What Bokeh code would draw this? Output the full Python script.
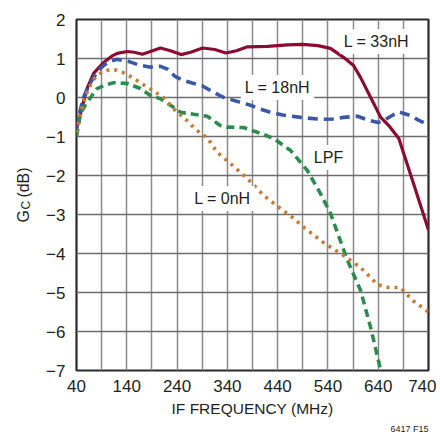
import math
from bokeh.plotting import figure
from bokeh.models import Range1d, FixedTicker, Label
from bokeh.embed import file_html
from bokeh.resources import INLINE

# ---- data ----
freq_33 = [40, 48, 55, 62, 74, 94, 110, 121, 141, 155, 171, 190, 207, 227, 248, 267, 291,
           315, 337, 358, 380, 420, 460, 490, 520, 545, 571, 591, 605, 625, 645, 661, 681, 710, 740]
gain_33 = [-0.8, -0.41, -0.05, 0.26, 0.62, 0.9, 1.06, 1.13, 1.18, 1.16, 1.11, 1.19, 1.27, 1.2, 1.1,
           1.16, 1.27, 1.23, 1.14, 1.2, 1.3, 1.31, 1.35, 1.36, 1.33, 1.26, 1.03, 0.82, 0.51,
           0.0, -0.51, -0.72, -1.05, -2.2, -3.4]

freq_18 = [40, 47, 54, 64, 74, 84, 94, 104, 121, 145, 165, 185, 207, 222, 235, 250, 270, 290,
           313, 333, 360, 386, 406, 426, 450, 486, 525, 550, 571, 599, 620, 640, 651, 665, 681,
           704, 720, 740]
gain_18 = [-0.8, -0.35, 0.0, 0.3, 0.51, 0.7, 0.82, 0.92, 0.98, 0.92, 0.83, 0.78, 0.8, 0.72,
           0.55, 0.45, 0.37, 0.3, 0.13, 0.0, -0.1, -0.2, -0.3, -0.38, -0.45, -0.51, -0.56, -0.55,
           -0.51, -0.48, -0.58, -0.64, -0.59, -0.48, -0.37, -0.46, -0.58, -0.7]

freq_0 = [40, 50, 60, 70, 80, 92, 108, 120, 134, 150, 167, 180, 193, 213, 227, 241, 253, 273,
          287, 300, 320, 346, 380, 412, 446, 472, 492, 531, 571, 605, 639, 660, 684, 710, 740]
gain_0 = [-0.9, -0.3, 0.1, 0.38, 0.55, 0.66, 0.72, 0.7, 0.63, 0.52, 0.38, 0.27, 0.17, 0.0,
          -0.2, -0.4, -0.5, -0.77, -0.92, -1.03, -1.41, -1.69, -2.08, -2.51, -2.85, -3.1, -3.33,
          -3.72, -4.05, -4.36, -4.8, -4.87, -4.87, -5.22, -5.5]

freq_lpf = [40, 48, 58, 68, 81, 95, 114, 141, 167, 187, 207, 227, 247, 273, 300, 326, 340,
            372, 406, 432, 466, 486, 499, 525, 545, 579, 605, 625, 645]
gain_lpf = [-1.0, -0.41, -0.18, 0.0, 0.23, 0.31, 0.38, 0.36, 0.23, 0.05, -0.03, -0.2, -0.38,
            -0.43, -0.48, -0.72, -0.76, -0.77, -0.92, -1.05, -1.36, -1.67, -1.87, -2.46, -2.97,
            -4.18, -4.95, -5.9, -7.0]

x_ticks = [40, 140, 240, 340, 440, 540, 640, 740]
x_grid = [40, 90, 140, 190, 240, 290, 340, 390, 440, 490, 540, 590, 640, 690, 740]
y_ticks = [-7, -6, -5, -4, -3, -2, -1, 0, 1, 2]
y_tick_labels = {t: (str(t).replace("-", "\u2212")) for t in y_ticks}

FONT = "'Liberation Sans', Arial, sans-serif"
TXT = "#231f20"

W, H = 436, 434
ML, MR, MT, MB = 76, 8, 19, 64

p = figure(width=W, height=H, output_backend="svg", toolbar_location=None,
           x_range=Range1d(40, 740), y_range=Range1d(-7, 2),
           min_border_left=ML, min_border_right=MR, min_border_top=MT, min_border_bottom=MB)
p.background_fill_color = "white"
p.border_fill_color = "white"
p.outline_line_color = "#2a2a2a"
p.outline_line_width = 2.2

p.xaxis.ticker = FixedTicker(ticks=x_ticks)
p.yaxis.ticker = FixedTicker(ticks=y_ticks)
p.yaxis.major_label_overrides = y_tick_labels
p.xgrid.ticker = FixedTicker(ticks=x_grid)
p.ygrid.ticker = FixedTicker(ticks=y_ticks)
p.xgrid.grid_line_color = "#8a8a8a"
p.xgrid.grid_line_width = 1.5
p.ygrid.grid_line_color = "#6e6e6e"
p.ygrid.grid_line_width = 1.5

for ax in (p.xaxis[0], p.yaxis[0]):
    ax.axis_line_color = None
    ax.major_tick_line_color = None
    ax.minor_tick_line_color = None
    ax.major_tick_out = 0
    ax.major_tick_in = 0
    ax.major_label_text_font = FONT
    ax.major_label_text_font_size = "17px"
    ax.major_label_text_color = TXT

p.xaxis.major_label_standoff = 9
p.yaxis.major_label_standoff = 11
p.xaxis.axis_label = "IF FREQUENCY (MHz)"
p.xaxis.axis_label_text_font = FONT
p.xaxis.axis_label_text_font_size = "15.5px"
p.xaxis.axis_label_text_font_style = "normal"
p.xaxis.axis_label_text_color = TXT
p.xaxis.axis_label_standoff = 5

# ---- curves ----
p.line(freq_33, gain_33, line_color="#8c0b30", line_width=3.2)
p.line(freq_18, gain_18, line_color="#3a58a8", line_width=3.6, line_dash="10 6")
p.line(freq_lpf, gain_lpf, line_color="#2e8b50", line_width=3.6, line_dash="8 5")
p.line(freq_0, gain_0, line_color="#c47c36", line_width=3.6, line_dash="3 5")


def curve_label(txt, cx, cy):
    p.add_layout(Label(x=cx, y=cy, x_units="canvas", y_units="canvas", text=txt,
                       text_align="center", text_baseline="middle", text_font=FONT,
                       text_font_size="16px", text_color=TXT,
                       background_fill_color="white", background_fill_alpha=1.0, padding=4))

# canvas pixel positions (top-left origin)
curve_label("L = 33nH", 376, 41)
curve_label("L = 18nH", 277, 87)
curve_label("LPF", 328, 157)
curve_label("L = 0nH", 222, 198)

# y axis label with subscript (placed in the left panel)
p.add_layout(Label(x=23, y=222, x_units="canvas", y_units="canvas", text="G\u2002 (dB)",
                   angle=math.pi / 2, text_align="left", text_baseline="alphabetic",
                   text_font=FONT, text_font_size="16px", text_color=TXT), "left")
p.add_layout(Label(x=25, y=209, x_units="canvas", y_units="canvas", text="C",
                   angle=math.pi / 2, text_align="left", text_baseline="alphabetic",
                   text_font=FONT, text_font_size="12px", text_color=TXT), "left")

p.add_layout(Label(x=428, y=428, x_units="canvas", y_units="canvas", text="6417 F15",
                   text_align="right", text_baseline="alphabetic", text_font=FONT,
                   text_font_size="9px", text_color=TXT), "below")

open("out.html", "w").write(file_html(p, INLINE))
